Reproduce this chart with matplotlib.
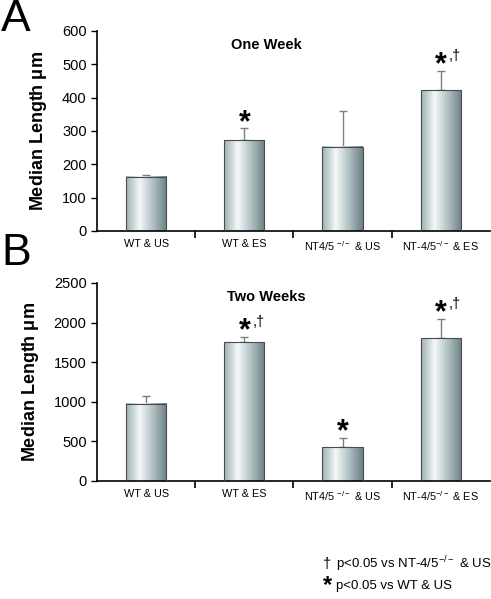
import numpy as np
import matplotlib
matplotlib.use("Agg")
import matplotlib.pyplot as plt
from matplotlib.colors import LinearSegmentedColormap

plt.rcParams['font.family'] = ['Liberation Sans', 'DejaVu Sans']

groups = ['WT & US', 'WT & ES', 'NT4/5 $^{\\mathregular{-/-}}$ & US', 'NT-4/5$^{\\mathregular{-/-}}$ & ES']

week1 = [162, 272, 252, 422]
week1_err = [6, 36, 108, 58]
week1_marks = ['', '*', '', '*,']

week2 = [975, 1750, 425, 1800]
week2_err = [95, 70, 120, 250]
week2_marks = ['', '*,', '*', '*,']

# horizontal shading of each bar: mid grey-blue -> near white -> dark grey-blue
shade = LinearSegmentedColormap.from_list(
    'shade', [(0.0, '#9fb1b5'), (0.33, '#f4f8f8'), (0.7, '#a9babd'), (1.0, '#6c8186')])
grad = np.linspace(0, 1, 64).reshape(1, -1)


def panel(ax, vals, errs, marks, ymax, ystep, title):
    x = np.arange(len(vals))
    bars = ax.bar(x, vals, width=0.41, color='none', edgecolor='#4a4a4a', linewidth=0.8, zorder=3)
    for b in bars:
        x0, w, h = b.get_x(), b.get_width(), b.get_height()
        ax.imshow(grad, cmap=shade, aspect='auto', extent=(x0, x0 + w, 0, h), zorder=2)
    ax.errorbar(x, vals, yerr=[np.zeros(len(errs)), errs], fmt='none', ecolor='#7f7f7f',
                elinewidth=1.0, capsize=3, capthick=1.0, zorder=1)
    for xi, v, e, m in zip(x, vals, errs, marks):
        if not m:
            continue
        ax.annotate('*', (xi, v + e), xytext=(0, -2), textcoords='offset points',
                    ha='center', va='baseline', fontsize=22, fontweight='bold')
        if m.endswith(','):
            ax.annotate(',\u2020', (xi, v + e), xytext=(6, 8), textcoords='offset points',
                        ha='left', va='baseline', fontsize=10.5)
    ax.set_xlim(-0.5, len(vals) - 0.5)
    ax.set_ylim(0, ymax)
    ax.set_yticks(np.arange(0, ymax + 1, ystep))
    ax.set_xticks(x)
    ax.set_xticklabels(groups, fontsize=7.8)
    ax.set_xticks(np.arange(0.5, len(vals) - 1, 1), minor=True)
    ax.tick_params(axis='x', which='major', length=0, pad=6)
    ax.tick_params(axis='x', which='minor', length=5, width=1.2, direction='out')
    ax.tick_params(axis='y', labelsize=10.5, length=4, width=1.0, direction='out')
    for s in ['top', 'right']:
        ax.spines[s].set_visible(False)
    for s in ['left', 'bottom']:
        ax.spines[s].set_linewidth(1.2)
    ax.set_ylabel('Median Length $\\mathregular{\\mu m}$', fontsize=13, fontweight='bold', labelpad=9)
    ax.text(0.43, 0.93, title, transform=ax.transAxes, ha='center', va='center',
            fontsize=10.5, fontweight='bold')


fig = plt.figure(figsize=(4.91, 5.99), dpi=100)
ax1 = fig.add_axes([0.1976, 0.6144, 0.800, 0.3339])
ax2 = fig.add_axes([0.1976, 0.1970, 0.800, 0.3306])

panel(ax1, week1, week1_err, week1_marks, 600, 100, 'One Week')
panel(ax2, week2, week2_err, week2_marks, 2500, 500, 'Two Weeks')

fig.text(0.002, 0.968, 'A', fontsize=32, va='center', ha='left')
fig.text(0.002, 0.577, 'B', fontsize=32, va='center', ha='left')

fig.text(0.666, 0.058, '\u2020', fontsize=10.5, va='center', ha='center')
fig.text(0.684, 0.058, 'p<0.05 vs NT-4/5$^{\\mathregular{-/-}}$ & US', fontsize=9.5, va='center', ha='left')
fig.text(0.668, 0.022, '*', fontsize=17, fontweight='bold', va='center', ha='center')
fig.text(0.684, 0.021, 'p<0.05 vs WT & US', fontsize=9.5, va='center', ha='left')

fig.savefig('out.png', dpi=100)
